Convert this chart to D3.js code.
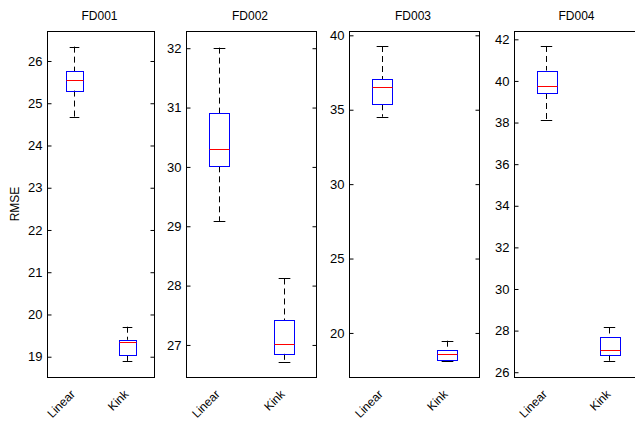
<!DOCTYPE html>
<html>
<head>
<meta charset="utf-8">
<script src="https://cdn.jsdelivr.net/npm/d3@7"></script>
<style>
  html, body { margin: 0; padding: 0; background: #fff; }
  text { font-family: "Liberation Sans", Arial, sans-serif; fill: #000; }
</style>
</head>
<body>
<svg id="chart" width="635" height="421"></svg>
<script>
// ---- data ----
const titles = ["FD001", "FD002", "FD003", "FD004"];
const categories = ["Linear", "Kink"];

const linearLow  = [24.68, 29.09, 34.53, 38.12];
const linearQ1   = [25.30, 30.01, 35.37, 39.42];
const linearMed  = [25.54, 30.30, 36.55, 39.77];
const linearQ3   = [25.755, 30.90, 37.06, 40.50];
const linearHigh = [26.34, 32.01, 39.28, 41.68];

const kinkLow  = [18.90, 26.71, 18.11, 26.55];
const kinkQ1   = [19.04, 26.85, 18.16, 26.83];
const kinkMed  = [19.355, 27.02, 18.59, 27.09];
const kinkQ3   = [19.40, 27.42, 18.86, 27.70];
const kinkHigh = [19.71, 28.12, 19.48, 28.15];

const yMin = [18.52, 26.46, 17.04, 25.77];
const yMax = [26.71, 32.29, 40.29, 42.40];
const yTicks = [
  [19, 20, 21, 22, 23, 24, 25, 26],
  [27, 28, 29, 30, 31, 32],
  [20, 25, 30, 35, 40],
  [26, 28, 30, 32, 34, 36, 38, 40, 42]
];
const yLabel = "RMSE";

// ---- layout ----
const panelLeft = [47, 186, 349, 514];
const panelWidth = [107, 130, 130, 127];
const plotTop = 31, plotBottom = 377;

const svg = d3.select("#chart");

titles.forEach((title, i) => {
  const x = d3.scaleLinear().domain([0.5, 2.5]).range([panelLeft[i], panelLeft[i] + panelWidth[i]]);
  const y = d3.scaleLinear().domain([yMin[i], yMax[i]]).range([plotBottom, plotTop]);
  const g = svg.append("g");
  const unit = x(2) - x(1);

  // frame
  g.append("rect")
    .attr("x", panelLeft[i] + 0.5).attr("y", plotTop + 0.5)
    .attr("width", panelWidth[i]).attr("height", plotBottom - plotTop)
    .attr("fill", "none").attr("stroke", "#000").attr("stroke-width", 1);

  // left axis (ticks inward)
  const yAxisL = d3.axisLeft(y).tickValues(yTicks[i]).tickFormat(d3.format("d"))
    .tickSizeInner(-4).tickSizeOuter(0).tickPadding(5);
  const gl = g.append("g").attr("transform", `translate(${panelLeft[i] + 0.5},0)`).call(yAxisL);
  gl.select(".domain").remove();
  gl.selectAll("text").style("font-size", "13px").style("font-family", "Liberation Sans, Arial, sans-serif").attr("fill", "#000");
  gl.selectAll("line").attr("stroke", "#000");

  // right axis ticks inward, no labels
  const yAxisR = d3.axisRight(y).tickValues(yTicks[i]).tickSizeInner(-4).tickSizeOuter(0).tickFormat("");
  const gr = g.append("g").attr("transform", `translate(${panelLeft[i] + panelWidth[i] + 0.5},0)`).call(yAxisR);
  gr.select(".domain").remove();
  gr.selectAll("line").attr("stroke", "#000");

  // title
  g.append("text")
    .attr("x", panelLeft[i] + panelWidth[i] / 2 - 1)
    .attr("y", 20)
    .attr("text-anchor", "middle")
    .style("font-size", "12px")
    .text(title);

  // boxes
  const stats = [
    {cat: categories[0], pos: 1, lo: linearLow[i], q1: linearQ1[i], med: linearMed[i], q3: linearQ3[i], hi: linearHigh[i]},
    {cat: categories[1], pos: 2, lo: kinkLow[i], q1: kinkQ1[i], med: kinkMed[i], q3: kinkQ3[i], hi: kinkHigh[i]}
  ];
  const bw = 0.31 * unit, cw = 0.18 * unit;
  stats.forEach(s => {
    const cx = Math.round(x(s.pos)) + 0.5;
    // whiskers
    g.append("line").attr("x1", cx).attr("x2", cx).attr("y1", y(s.hi)).attr("y2", y(s.q3))
      .attr("stroke", "#000").attr("stroke-dasharray", "6,4");
    g.append("line").attr("x1", cx).attr("x2", cx).attr("y1", y(s.q1)).attr("y2", y(s.lo))
      .attr("stroke", "#000").attr("stroke-dasharray", "6,4");
    // caps
    [s.hi, s.lo].forEach(v => {
      g.append("line").attr("x1", cx - cw / 2).attr("x2", cx + cw / 2)
        .attr("y1", Math.round(y(v)) + 0.5).attr("y2", Math.round(y(v)) + 0.5)
        .attr("stroke", "#000");
    });
    // box
    g.append("rect")
      .attr("x", Math.round(cx - bw / 2) + 0.5).attr("y", Math.round(y(s.q3)) + 0.5)
      .attr("width", Math.round(bw)).attr("height", Math.round(y(s.q1)) - Math.round(y(s.q3)))
      .attr("fill", "none").attr("stroke", "#0000ff");
    // median
    g.append("line")
      .attr("x1", Math.round(cx - bw / 2) + 0.5).attr("x2", Math.round(cx - bw / 2) + 0.5 + Math.round(bw))
      .attr("y1", Math.round(y(s.med)) + 0.5).attr("y2", Math.round(y(s.med)) + 0.5)
      .attr("stroke", "#ff0000");
    // x label
    g.append("text")
      .attr("transform", `translate(${x(s.pos) + 2},${plotBottom + 18}) rotate(-45)`)
      .attr("text-anchor", "end")
      .style("font-size", "12px")
      .text(s.cat);
  });

  if (i === 0) {
    g.append("text")
      .attr("transform", `translate(19,${(plotTop + plotBottom) / 2}) rotate(-90)`)
      .attr("text-anchor", "middle")
      .style("font-size", "12px")
      .text(yLabel);
  }
});
</script>
</body>
</html>
